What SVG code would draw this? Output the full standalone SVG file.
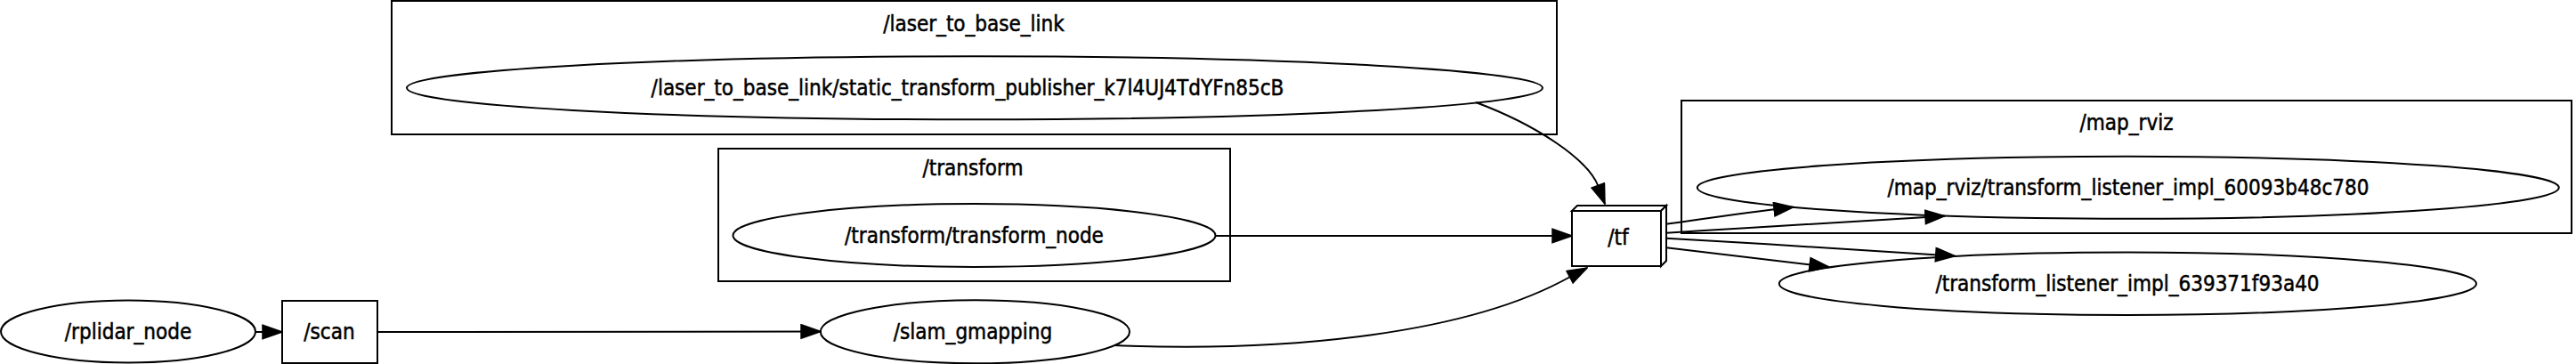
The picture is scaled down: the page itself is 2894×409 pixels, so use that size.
<svg xmlns="http://www.w3.org/2000/svg" width="2894" height="409" viewBox="0 0 2894 409">
<style>
  .shape { fill: none; stroke: #000; stroke-width: 2; }
  .box { fill: #fff; stroke: #000; stroke-width: 2; stroke-linejoin: miter; }
  .edge { fill: none; stroke: #000; stroke-width: 2; marker-end: url(#arrow); }
  text { font-family: "DejaVu Sans Condensed", "DejaVu Sans", sans-serif; font-stretch: condensed; font-size: 24px; fill: #000; stroke: #000; stroke-width: 0.5; text-anchor: middle; }
</style>
<defs>
  <marker id="arrow" markerUnits="userSpaceOnUse" markerWidth="24" markerHeight="18" viewBox="-1 -1 24 18" refX="22" refY="7.7" orient="auto">
    <path d="M0,0 L22,7.7 L0,15.4 Z" fill="#000" stroke="#000" stroke-width="1.5"/>
  </marker>
</defs>
<rect x="0" y="0" width="2894" height="409" fill="#fff"/>

<g id="cluster_laser_to_base_link">
  <rect class="shape" x="440" y="1" width="1309" height="150"/>
  <text x="1094" y="35">/laser_to_base_link</text>
</g>
<g id="cluster_transform">
  <rect class="shape" x="807" y="167" width="575" height="149"/>
  <text x="1093" y="197">/transform</text>
</g>
<g id="cluster_map_rviz">
  <rect class="shape" x="1889" y="113" width="1000" height="149"/>
  <text x="2389" y="146">/map_rviz</text>
</g>

<g id="connectors">
  <path class="edge" d="M287,373 L317,373"/>
  <path class="edge" d="M424,373 L922,372.5"/>
  <path class="edge" d="M1365,265 L1766,265"/>
  <path class="edge" d="M1658,115 C1725,140 1783,178 1795.5,209 L1803,229"/>
  <path class="edge" d="M1252,388 C1450,396 1650,375 1764,311 L1783,301"/>
  <path class="edge" d="M1872,251.7 C1920,245 1960,239 2015,232.7"/>
  <path class="edge" d="M1872,261.7 C1980,255 2090,248 2185,242.7"/>
  <path class="edge" d="M1872,267.7 C1980,274 2100,281 2196.7,287.7"/>
  <path class="edge" d="M1872,278.3 C1940,286 2000,293 2055,300"/>
</g>

<g id="node_rplidar_node">
  <ellipse class="shape" cx="144" cy="372.5" rx="143" ry="35"/>
  <text x="144" y="381">/rplidar_node</text>
</g>
<g id="node_scan">
  <rect class="shape" x="317" y="338" width="107" height="70"/>
  <text x="370" y="381">/scan</text>
</g>
<g id="node_slam_gmapping">
  <ellipse class="shape" cx="1095.4" cy="372.8" rx="173.6" ry="35.5"/>
  <text x="1093" y="381">/slam_gmapping</text>
</g>
<g id="node_static_transform_publisher">
  <ellipse class="shape" cx="1095" cy="98.8" rx="638" ry="35.5"/>
  <text x="1087" y="107">/laser_to_base_link/static_transform_publisher_k7l4UJ4TdYFn85cB</text>
</g>
<g id="node_transform_node">
  <ellipse class="shape" cx="1094.5" cy="264.5" rx="271" ry="35.5"/>
  <text x="1094.5" y="273">/transform/transform_node</text>
</g>
<g id="node_tf">
  <polygon class="box" points="1766,237 1772,231 1872,231 1866,237"/>
  <polygon class="box" points="1866,237 1872,231 1872,293 1866,299"/>
  <rect class="box" x="1766" y="237" width="100" height="62"/>
  <text x="1818" y="275">/tf</text>
</g>
<g id="node_map_rviz_listener">
  <ellipse class="shape" cx="2390.8" cy="210.8" rx="484" ry="35"/>
  <text x="2391" y="219">/map_rviz/transform_listener_impl_60093b48c780</text>
</g>
<g id="node_transform_listener">
  <ellipse class="shape" cx="2390.4" cy="318.7" rx="391.6" ry="35.3"/>
  <text x="2390" y="327">/transform_listener_impl_639371f93a40</text>
</g>
</svg>
